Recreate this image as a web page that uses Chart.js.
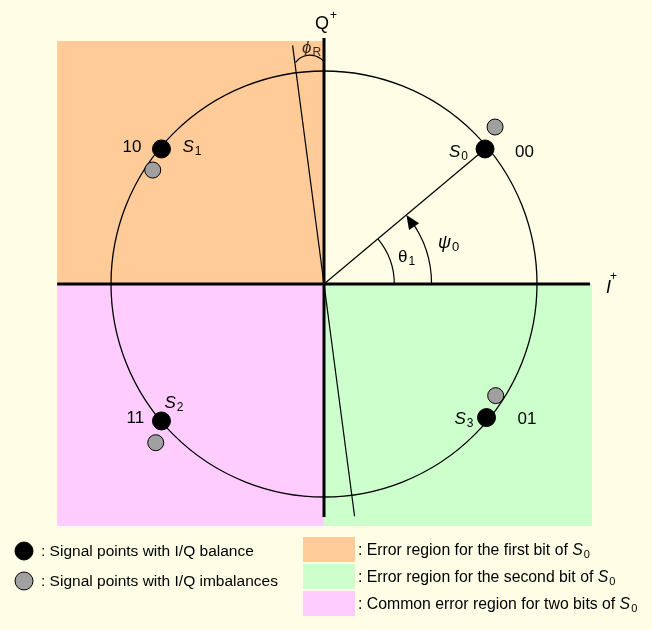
<!DOCTYPE html>
<html>
<head>
<meta charset="utf-8">
<script src="https://cdn.jsdelivr.net/npm/chart.js@4.4.1/dist/chart.umd.min.js"></script>
<style>
  body { margin: 0; background: #fffde6; }
  #wrap { width: 652px; height: 630px; }
</style>
</head>
<body>
<div id="wrap"><canvas id="chart"></canvas></div>
<script>
// constellation points (unit circle = ideal amplitude)
const pointNames = ['0', '1', '2', '3'];
const bitLabels = ['00', '10', '11', '01'];
const balancedI = [0.756, -0.763, -0.763, 0.763];
const balancedQ = [0.634, 0.634, -0.643, -0.627];
const imbalancedI = [0.803, -0.804, -0.790, 0.806];
const imbalancedQ = [0.737, 0.535, -0.745, -0.524];

// decision regions and axes (same units)
const regionLeft = -1.253, regionRight = 1.258, regionTop = 1.141, regionBottom = -1.136;
const iAxis = [-1.253, 1.249];
const qAxis = [-1.094, 1.155];
const phaseSkewDeg = 7.5;
const skewAxisLen = [1.10, 1.13];

const legendItems = [
  { fill: '#000000', text: ': Signal points with I/Q balance' },
  { fill: '#a0a0a0', text: ': Signal points with I/Q imbalances' }
];
const regionItems = [
  { color: '#ffcc99', text: ': Error region for the first bit of ' },
  { color: '#ccffcc', text: ': Error region for the second bit of ' },
  { color: '#ffccff', text: ': Common error region for two bits of ' }
];

const FONT = '"Liberation Sans", Arial, sans-serif';

function subText(ctx, main, sub, x, y, size, italic) {
  ctx.font = (italic ? 'italic ' : '') + size + 'px ' + FONT;
  ctx.fillText(main, x, y);
  const w = ctx.measureText(main).width;
  ctx.font = Math.round(size * 0.7) + 'px ' + FONT;
  ctx.fillText(sub, x + w + 1, y + 3);
  return w + 1 + ctx.measureText(sub).width;
}

const drawing = {
  id: 'drawing',
  beforeDatasetsDraw(chart) {
    const { ctx, scales: { x, y } } = chart;
    const px = v => x.getPixelForValue(v), py = v => y.getPixelForValue(v);
    const ox = px(0), oy = py(0);
    const r = px(1) - ox;
    ctx.save();
    ctx.fillStyle = '#fffde6';
    ctx.fillRect(0, 0, chart.width, chart.height);
    // regions
    ctx.fillStyle = '#ffcc99';
    ctx.fillRect(px(regionLeft), py(regionTop), ox - px(regionLeft), oy - py(regionTop));
    ctx.fillStyle = '#ffccff';
    ctx.fillRect(px(regionLeft), oy, ox - px(regionLeft), py(regionBottom) - oy);
    ctx.fillStyle = '#ccffcc';
    ctx.fillRect(ox, oy, px(regionRight) - ox, py(regionBottom) - oy);
    // circle
    ctx.strokeStyle = '#000';
    ctx.lineWidth = 1.3;
    ctx.beginPath();
    ctx.arc(ox, oy, r, 0, Math.PI * 2);
    ctx.stroke();
    // main axes
    ctx.lineWidth = 3;
    ctx.beginPath();
    ctx.moveTo(px(iAxis[0]), oy); ctx.lineTo(px(iAxis[1]), oy);
    ctx.moveTo(ox, py(qAxis[0])); ctx.lineTo(ox, py(qAxis[1]));
    ctx.stroke();
    // skewed Q axis
    const a = phaseSkewDeg * Math.PI / 180;
    ctx.lineWidth = 1.2;
    ctx.beginPath();
    ctx.moveTo(px(Math.sin(a) * skewAxisLen[0]), py(-Math.cos(a) * skewAxisLen[0]));
    ctx.lineTo(px(-Math.sin(a) * skewAxisLen[1]), py(Math.cos(a) * skewAxisLen[1]));
    ctx.stroke();
    // line to S0
    const sx = px(balancedI[0]), sy = py(balancedQ[0]);
    ctx.beginPath();
    ctx.moveTo(ox, oy); ctx.lineTo(sx, sy);
    ctx.stroke();
    const ang = Math.atan2(oy - sy, sx - ox);
    // theta1 arc
    ctx.beginPath();
    ctx.arc(ox, oy, 0.33 * r, -ang, 0);
    ctx.stroke();
    // psi0 arc with arrow
    const pr = 0.505 * r;
    ctx.beginPath();
    ctx.arc(ox, oy, pr, -ang + 0.06, 0);
    ctx.stroke();
    const tx = ox + pr * Math.cos(ang), ty = oy - pr * Math.sin(ang);
    const dir = -ang - Math.PI / 2; // tangent direction (counter-clockwise)
    ctx.save();
    ctx.translate(tx, ty);
    ctx.rotate(dir + 0.12);
    ctx.beginPath();
    ctx.moveTo(0, 0); ctx.lineTo(-14, -6); ctx.lineTo(-14, 6);
    ctx.closePath();
    ctx.fillStyle = '#000';
    ctx.fill();
    ctx.restore();
    // phi_R small arc
    ctx.beginPath();
    ctx.arc(ox - 14, py(0.99), 18, -144 * Math.PI / 180, -43 * Math.PI / 180);
    ctx.stroke();
    ctx.restore();
  },
  afterDatasetsDraw(chart) {
    const { ctx, scales: { x, y } } = chart;
    const px = v => x.getPixelForValue(v), py = v => y.getPixelForValue(v);
    const ox = px(0), oy = py(0);
    ctx.save();
    ctx.fillStyle = '#000';
    ctx.textBaseline = 'alphabetic';
    // point labels: offsets for name and bits
    const nameOff = [[-36, 8], [21, 3], [3, -13], [-32, 6]];
    const bitOff = [[30, 8], [-39, 3], [-35, 2], [31, 6]];
    for (let i = 0; i < 4; i++) {
      const bx = px(balancedI[i]), by = py(balancedQ[i]);
      subText(ctx, 'S', pointNames[i], bx + nameOff[i][0], by + nameOff[i][1], 17, true);
      ctx.font = '17px ' + FONT;
      ctx.fillText(bitLabels[i], bx + bitOff[i][0], by + bitOff[i][1]);
    }
    // angle labels
    subText(ctx, 'θ', '1', ox + 74, oy - 22, 17, false);
    subText(ctx, 'ψ', '0', ox + 114, oy - 36, 18, true);
    // axis labels
    ctx.font = '18px ' + FONT;
    ctx.fillText('Q', ox - 9, 29);
    ctx.font = '12px ' + FONT;
    ctx.fillText('+', ox + 6, 19);
    ctx.font = 'italic 18px ' + FONT;
    ctx.fillText('I', px(iAxis[1]) + 16, oy + 9);
    ctx.font = '12px ' + FONT;
    ctx.fillText('+', px(iAxis[1]) + 20, oy - 4);
    ctx.fillStyle = '#3a2818';
    subText(ctx, 'ϕ', 'R', ox - 22, 53, 17, true);
    // legend
    ctx.fillStyle = '#000';
    legendItems.forEach((it, i) => {
      const cy = 551 + i * 30;
      ctx.beginPath();
      ctx.arc(24, cy, 9, 0, Math.PI * 2);
      ctx.fillStyle = it.fill;
      ctx.fill();
      ctx.lineWidth = 1;
      ctx.strokeStyle = '#000';
      ctx.stroke();
      ctx.fillStyle = '#000';
      ctx.font = '15.5px ' + FONT;
      ctx.fillText(it.text, 41, cy + 5);
    });
    regionItems.forEach((it, i) => {
      const top = 537 + i * 27;
      ctx.fillStyle = it.color;
      ctx.fillRect(303, top, 52, 25);
      ctx.fillStyle = '#000';
      ctx.font = '15.8px ' + FONT;
      ctx.fillText(it.text, 358, top + 18);
      const w = ctx.measureText(it.text).width;
      subText(ctx, 'S', '0', 358 + w, top + 18, 15.8, true);
    });
    ctx.restore();
  }
};

new Chart(document.getElementById('chart'), {
  type: 'scatter',
  data: {
    datasets: [
      {
        label: 'I/Q imbalances',
        data: imbalancedI.map((v, i) => ({ x: v, y: imbalancedQ[i] })),
        pointRadius: 8,
        pointBackgroundColor: '#a0a0a0',
        pointBorderColor: '#000',
        pointBorderWidth: 1
      },
      {
        label: 'I/Q balance',
        data: balancedI.map((v, i) => ({ x: v, y: balancedQ[i] })),
        pointRadius: 9,
        pointBackgroundColor: '#000',
        pointBorderColor: '#000',
        pointBorderWidth: 1
      }
    ]
  },
  options: {
    responsive: true,
    maintainAspectRatio: false,
    animation: false,
    layout: { padding: 0, autoPadding: false },
    plugins: { legend: { display: false }, tooltip: { enabled: false } },
    scales: {
      x: { type: 'linear', display: false, min: -324 / 213, max: 328 / 213 },
      y: { type: 'linear', display: false, min: -346 / 213, max: 284 / 213 }
    }
  },
  plugins: [drawing]
});
</script>
</body>
</html>
